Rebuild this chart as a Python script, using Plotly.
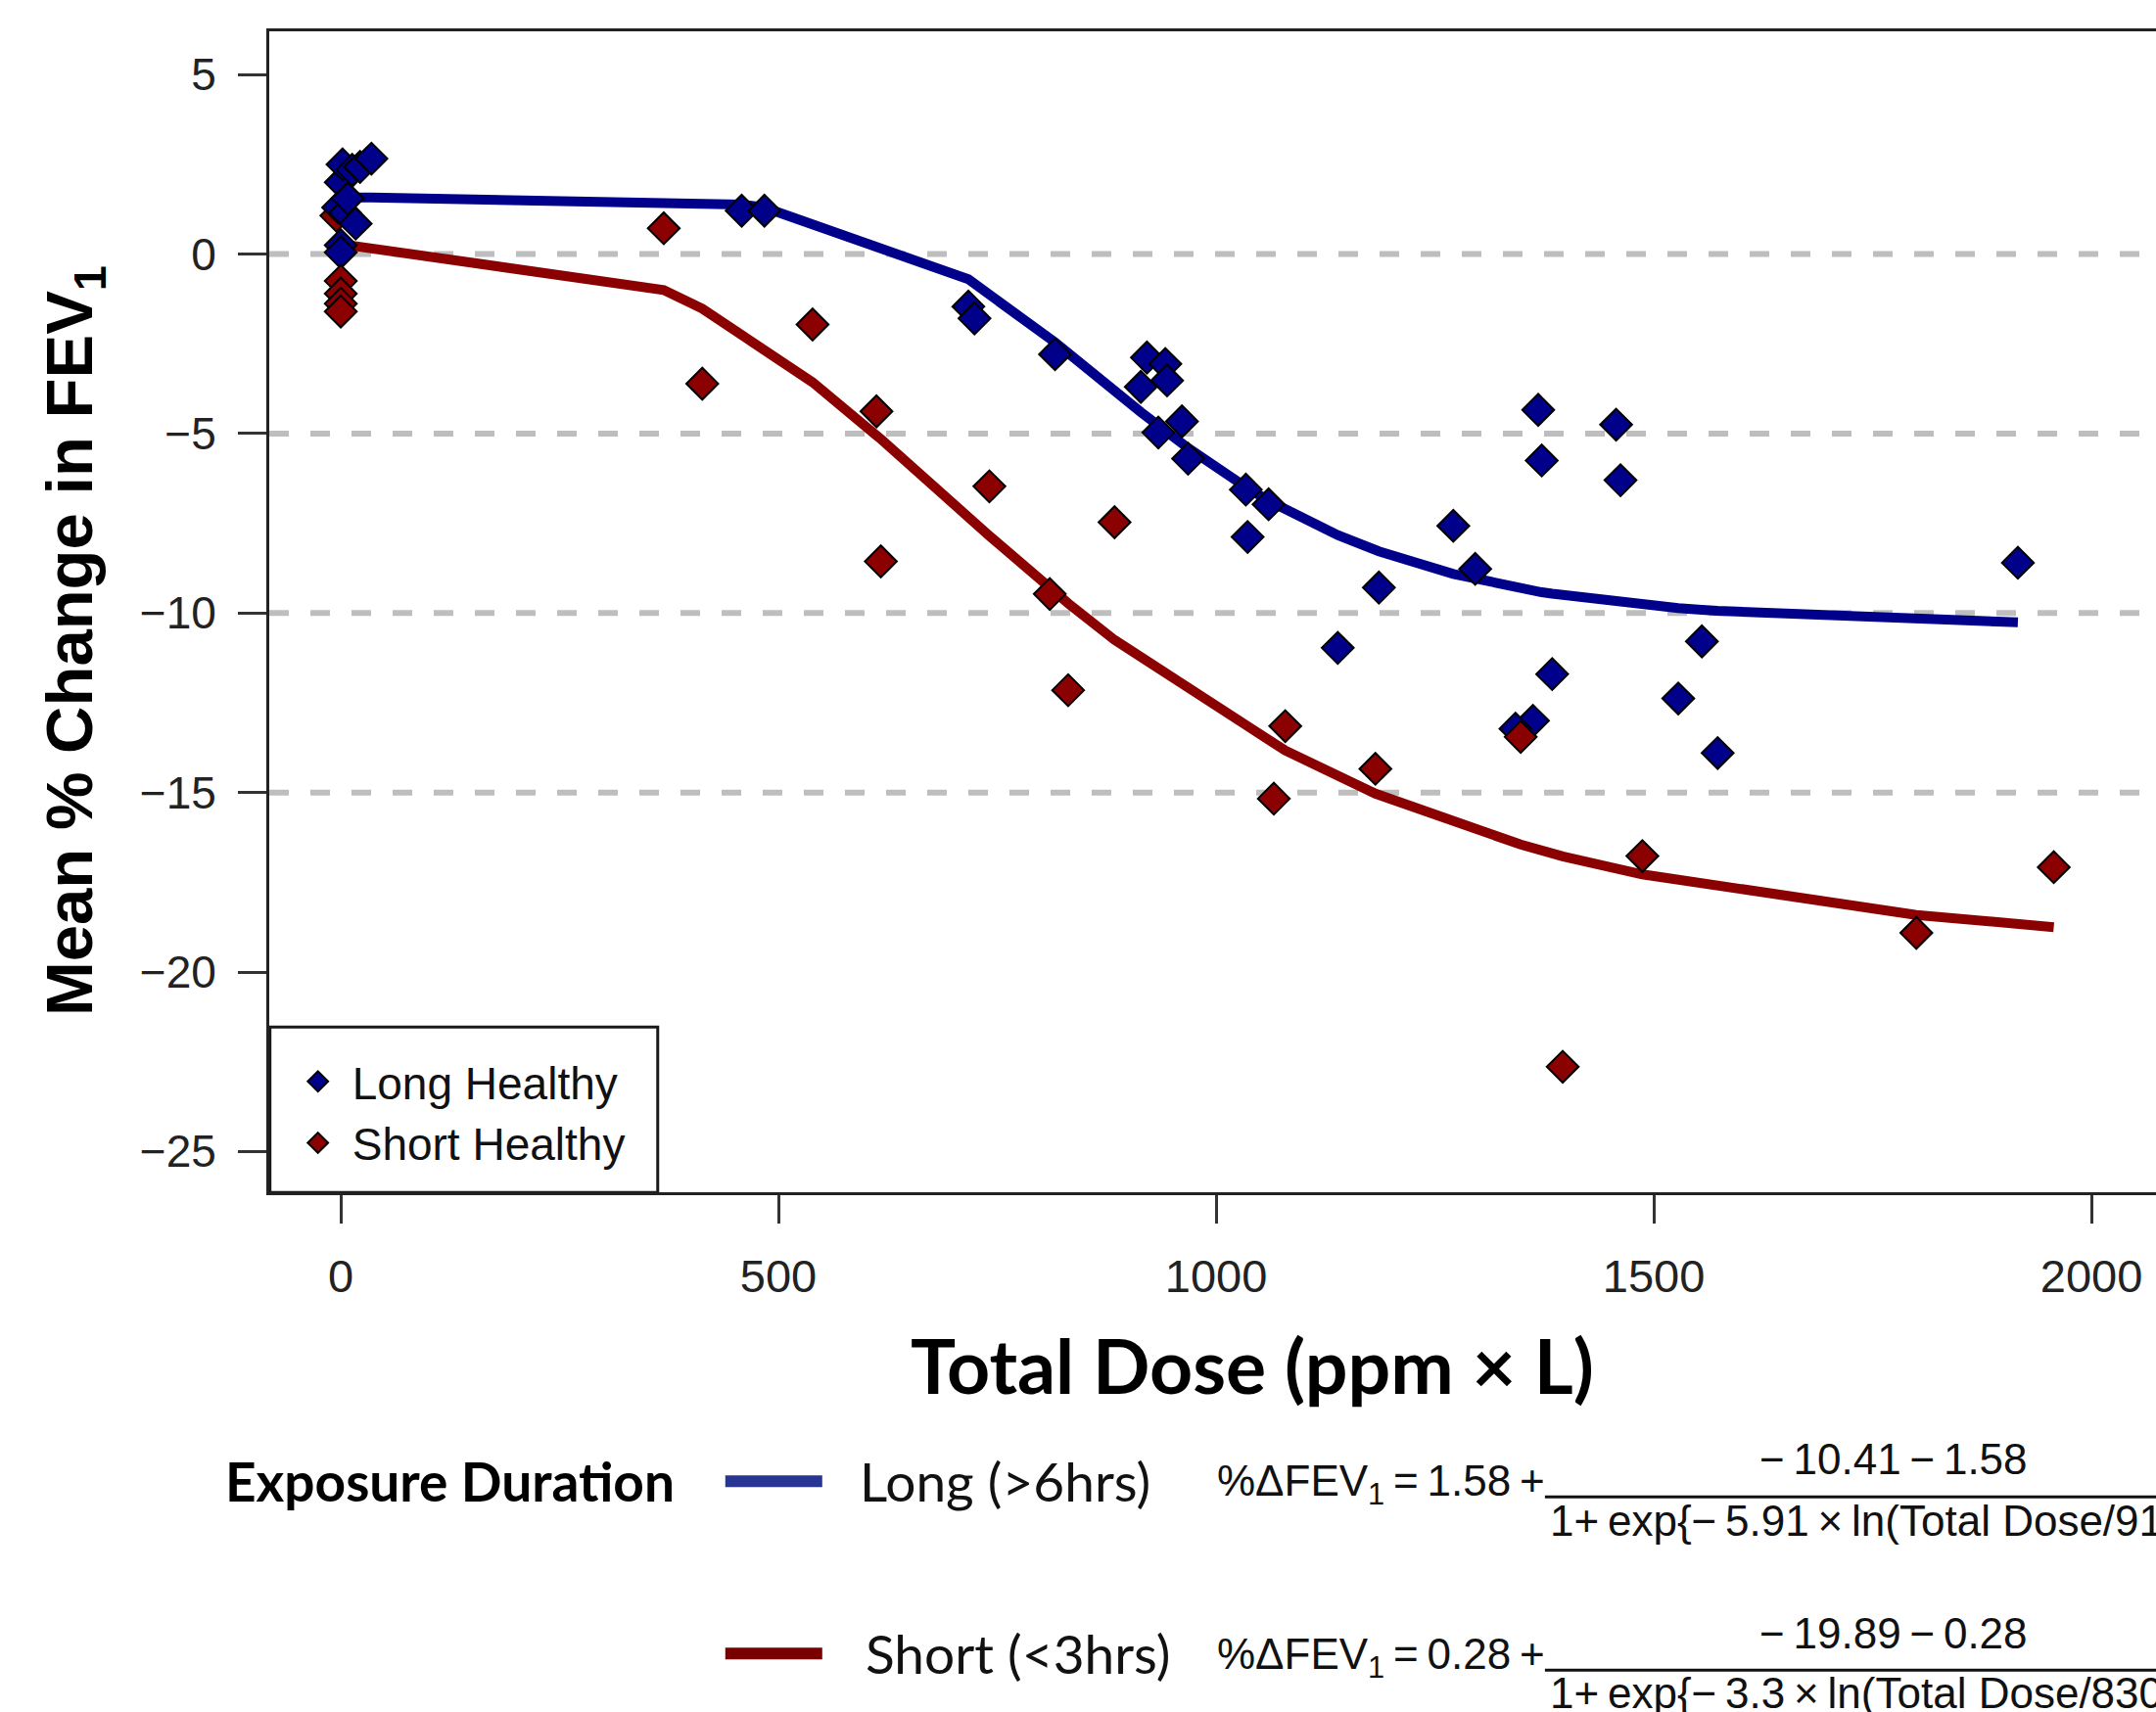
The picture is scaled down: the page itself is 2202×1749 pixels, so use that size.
import plotly.graph_objects as go

# ---------------- data ----------------
long_dose = [0, 2, 13, 22, 35, -3, 5, 17, 0, 0, 8, 458, 484, 717, 724, 816, 921, 942, 944, 914,
             961, 934, 968, 1034, 1060, 1036, 1186, 1139, 1271, 1296, 1368, 1372, 1457, 1462,
             1916, 1555, 1384, 1528, 1362, 1342, 1573]
long_fev = [2.0, 2.5, 2.35, 2.43, 2.66, 1.3, 1.15, 0.85, 0.25, 0.05, 1.55, 1.21, 1.21, -1.46, -1.79,
            -2.79, -2.88, -3.06, -3.52, -3.70, -4.66, -4.97, -5.70, -6.56, -6.97, -7.88, -9.29,
            -10.97, -7.57, -8.77, -4.34, -5.75, -4.75, -6.30, -8.60, -10.79, -11.70, -12.38,
            -13.0, -13.22, -13.9]

# short-exposure point hidden behind the long-exposure cluster at dose 0
short_dose_behind = [-5]
short_fev_behind = [1.07]
short_dose = [0, 0, 0, 0, 369, 413, 539, 612, 617, 741, 884, 810, 831, 1079, 1066, 1182,
              1348, 1487, 1396, 1800, 1957]
short_fev = [-0.75, -1.1, -1.38, -1.6, 0.72, -3.61, -1.96, -4.38, -8.56, -6.47, -7.47,
             -9.47, -12.15, -13.15, -15.17, -14.34, -13.45, -16.77, -22.64, -18.91, -17.08]

long_fit_dose = [0, 35, 458, 484, 717, 724, 816, 914, 921, 934, 942, 944, 961, 968, 1034, 1036,
                 1060, 1139, 1186, 1271, 1296, 1342, 1362, 1368, 1372, 1384, 1457, 1462, 1528,
                 1555, 1573, 1916]
long_fit = [1.58, 1.58, 1.38, 1.30, -0.70, -0.82, -2.46, -4.40, -4.53, -4.78, -4.93, -4.97, -5.28,
            -5.40, -6.49, -6.52, -6.87, -7.83, -8.28, -8.91, -9.05, -9.28, -9.37, -9.40, -9.42,
            -9.46, -9.69, -9.71, -9.86, -9.91, -9.94, -10.26]

short_fit_dose = [0, 369, 413, 539, 612, 617, 741, 810, 831, 884, 1066, 1079, 1182, 1348, 1396,
                  1487, 1800, 1957]
short_fit = [0.28, -1.00, -1.52, -3.57, -5.05, -5.15, -7.85, -9.30, -9.73, -10.75, -13.66,
             -13.83, -15.03, -16.45, -16.78, -17.28, -18.41, -18.75]

x_ticks = [0, 500, 1000, 1500, 2000]
y_ticks = [5, 0, -5, -10, -15, -20, -25]
y_tick_labels = ["5", "0", "\u22125", "\u221210", "\u221215", "\u221220", "\u221225"]
grid_levels = [0, -5, -10, -15]

# ---------------- layout helpers ----------------
W, H = 2202, 1749
PL, PT, PR, PB = 275.3, 31.7, 2202.0, 1217.7


def fx(p):
    return (p - PL) / (PR - PL)


def fy(p):
    return (PB - p) / (PB - PT)


BLUE = "#00008B"
RED = "#8B0000"
ARIAL = "Liberation Sans, Arial, sans-serif"
CAL = "Lato, Open Sans, sans-serif"
TS = "\u2009"  # thin space

fig = go.Figure()

fig.add_trace(go.Scatter(x=long_fit_dose, y=long_fit, mode="lines",
                         line=dict(color=BLUE, width=10), showlegend=False, hoverinfo="skip"))
fig.add_trace(go.Scatter(x=short_fit_dose, y=short_fit, mode="lines",
                         line=dict(color=RED, width=10), showlegend=False, hoverinfo="skip"))
fig.add_trace(go.Scatter(x=short_dose_behind, y=short_fev_behind, mode="markers",
                         showlegend=False,
                         marker=dict(symbol="diamond", size=25, color=RED,
                                     line=dict(color="black", width=2))))
fig.add_trace(go.Scatter(x=long_dose, y=long_fev, mode="markers", name="Long Healthy",
                         marker=dict(symbol="diamond", size=25, color=BLUE,
                                     line=dict(color="black", width=2))))
fig.add_trace(go.Scatter(x=short_dose, y=short_fev, mode="markers", name="Short Healthy",
                         marker=dict(symbol="diamond", size=25, color=RED,
                                     line=dict(color="black", width=2))))

shapes = []
for g in grid_levels:
    shapes.append(dict(type="line", xref="paper", yref="y", x0=0, x1=1, y0=g, y1=g,
                       line=dict(color="#BEBEBE", width=6, dash="20px,22px"), layer="below"))
# legend frame
shapes.append(dict(type="rect", xref="paper", yref="paper", x0=fx(276), x1=fx(672),
                   y0=fy(1218), y1=fy(1049), line=dict(color="#1a1a1a", width=3),
                   fillcolor="white", layer="below"))
# bottom "Exposure Duration" key lines
shapes.append(dict(type="line", xref="paper", yref="paper", x0=fx(741), x1=fx(840),
                   y0=fy(1513), y1=fy(1513), line=dict(color="#283593", width=12)))
shapes.append(dict(type="line", xref="paper", yref="paper", x0=fx(741), x1=fx(840),
                   y0=fy(1689), y1=fy(1689), line=dict(color="#7A0000", width=12)))
# fraction bars
shapes.append(dict(type="line", xref="paper", yref="paper", x0=fx(1578), x1=fx(2202),
                   y0=fy(1529), y1=fy(1529), line=dict(color="#111", width=3)))
shapes.append(dict(type="line", xref="paper", yref="paper", x0=fx(1578), x1=fx(2202),
                   y0=fy(1706), y1=fy(1706), line=dict(color="#111", width=3)))

ann = []
ann.append(dict(text="<b>Mean % Change in FEV<sub>1</sub></b>", textangle=-90,
                xref="paper", yref="paper", x=fx(76), y=fy(654), xanchor="center",
                yanchor="middle", showarrow=False, font=dict(family=ARIAL, size=67, color="black")))
ann.append(dict(text="<b>Total Dose (ppm \u00d7 L)</b>", xref="paper", yref="paper",
                x=fx(1279), y=fy(1394), xanchor="center", yanchor="middle", showarrow=False,
                font=dict(family=CAL, size=77, color="black")))
ann.append(dict(text="<b>Exposure Duration</b>", xref="paper", yref="paper", x=fx(228),
                y=fy(1513), xanchor="left", yanchor="middle", showarrow=False,
                font=dict(family=CAL, size=55, color="black")))
ann.append(dict(text="Long (>6hrs)", xref="paper", yref="paper", x=fx(876), y=fy(1513),
                xanchor="left", yanchor="middle", showarrow=False,
                font=dict(family=CAL, size=55, color="#111")))
ann.append(dict(text="Short (<3hrs)", xref="paper", yref="paper", x=fx(882), y=fy(1689),
                xanchor="left", yanchor="middle", showarrow=False,
                font=dict(family=CAL, size=55, color="#111")))
# formulas
eq_font = dict(family=ARIAL, size=44, color="#111")
ann.append(dict(text="%\u0394FEV<sub>1</sub>" + TS + "=" + TS + "1.58" + TS + "+",
                xref="paper", yref="paper", x=fx(1241),
                y=fy(1516), xanchor="left", yanchor="middle", showarrow=False, font=eq_font))
ann.append(dict(text="\u2212" + TS + "10.41" + TS + "\u2212" + TS + "1.58", xref="paper",
                yref="paper", x=fx(1934),
                y=fy(1490), xanchor="center", yanchor="middle", showarrow=False, font=eq_font))
ann.append(dict(text="1+" + TS + "exp{\u2212" + TS + "5.91" + TS + "\u00d7" + TS +
                "ln(Total Dose/91", xref="paper", yref="paper",
                x=fx(1581), y=fy(1553), xanchor="left", yanchor="middle", showarrow=False,
                font=eq_font))
ann.append(dict(text="%\u0394FEV<sub>1</sub>" + TS + "=" + TS + "0.28" + TS + "+",
                xref="paper", yref="paper", x=fx(1241),
                y=fy(1693), xanchor="left", yanchor="middle", showarrow=False, font=eq_font))
ann.append(dict(text="\u2212" + TS + "19.89" + TS + "\u2212" + TS + "0.28", xref="paper",
                yref="paper", x=fx(1934),
                y=fy(1668), xanchor="center", yanchor="middle", showarrow=False, font=eq_font))
ann.append(dict(text="1+" + TS + "exp{\u2212" + TS + "3.3" + TS + "\u00d7" + TS +
                "ln(Total Dose/830", xref="paper", yref="paper",
                x=fx(1581), y=fy(1729), xanchor="left", yanchor="middle", showarrow=False,
                font=eq_font))

fig.update_layout(
    width=W, height=H,
    margin=dict(l=PL, r=0, t=PT, b=H - PB, pad=0),
    paper_bgcolor="white", plot_bgcolor="white",
    shapes=shapes, annotations=ann,
    showlegend=True,
    legend=dict(x=fx(290), y=fy(1068), xanchor="left", yanchor="top",
                bgcolor="rgba(0,0,0,0)", borderwidth=0,
                font=dict(family=ARIAL, size=46, color="#111"),
                itemsizing="trace", itemwidth=60, tracegroupgap=0),
    xaxis=dict(range=[-81.7, 2073.8], tickvals=x_ticks, ticks="outside", ticklen=29,
               tickwidth=3, tickcolor="#333", showline=True, linewidth=3, linecolor="#222",
               mirror=True, showgrid=False, zeroline=False, automargin=False,
               ticklabelstandoff=14,
               tickfont=dict(family=ARIAL, size=47, color="#222")),
    yaxis=dict(range=[-26.136, 6.207], tickvals=y_ticks, ticktext=y_tick_labels,
               ticks="outside", ticklen=29, tickwidth=3, tickcolor="#333", showline=True,
               linewidth=3, linecolor="#222", showgrid=False, zeroline=False,
               automargin=False, ticklabelstandoff=13,
               tickfont=dict(family=ARIAL, size=46, color="#222")),
)

fig.write_html("out.html", config={"displayModeBar": False},
               post_script="document.body.style.margin='0';")
